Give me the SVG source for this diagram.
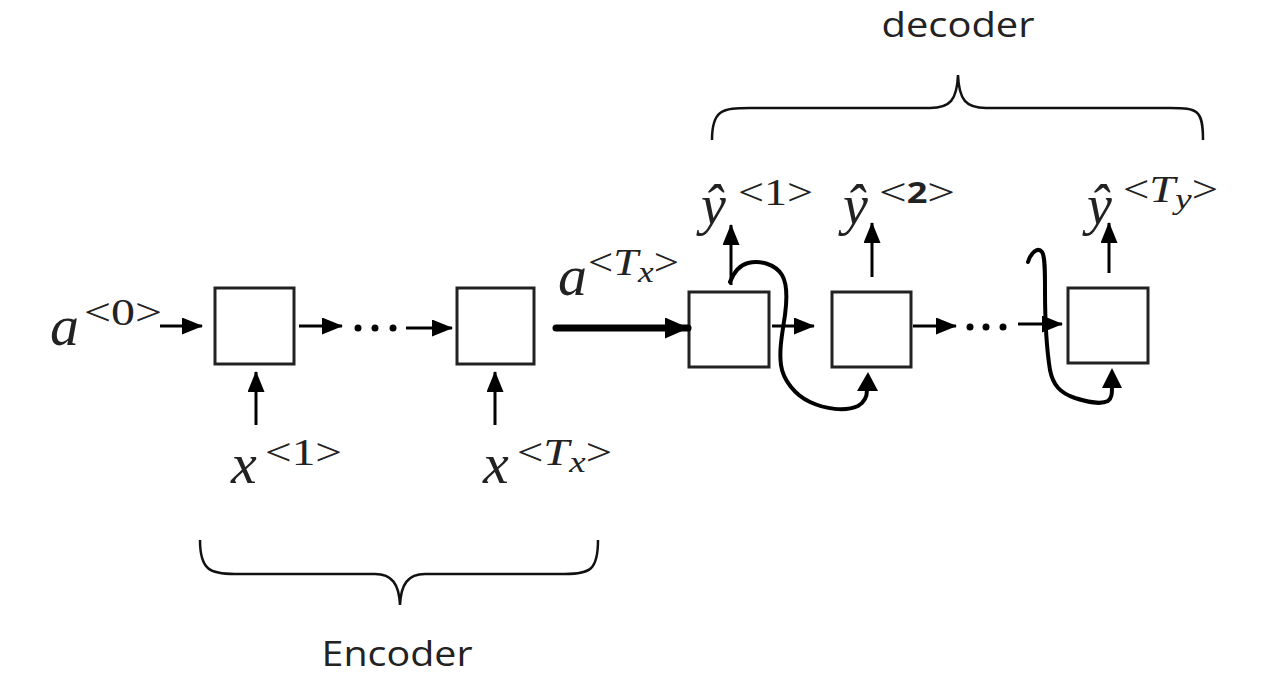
<svg xmlns="http://www.w3.org/2000/svg" width="1282" height="678" viewBox="0 0 1282 678">
<defs>
<marker id="ah" markerUnits="userSpaceOnUse" markerWidth="21" markerHeight="17" refX="20" refY="8.5" orient="auto"><path d="M0,0 L21,8.5 L0,17 z" fill="#000"/></marker>
<marker id="aht" markerUnits="userSpaceOnUse" markerWidth="24" markerHeight="21" refX="23" refY="10.5" orient="auto"><path d="M0,0 L24,10.5 L0,21 z" fill="#000"/></marker>
</defs>
<style>
.box{fill:#fff;stroke:#222;stroke-width:3}
.ar{stroke:#000;stroke-width:3;fill:none;marker-end:url(#ah)}
.thick{stroke:#000;stroke-width:7;fill:none;stroke-linecap:round;marker-end:url(#aht)}
.dot{fill:#000}
.hand{stroke:#000;stroke-width:4;fill:none;stroke-linecap:round;stroke-linejoin:round}
.brace{stroke:#111;stroke-width:2.5;fill:none}
.m{font-family:"Liberation Serif","DejaVu Serif",serif;font-style:italic;fill:#222}
.s{font-family:"Liberation Serif","DejaVu Serif",serif;fill:#222}
.t{font-family:"Open Sans","Noto Sans",sans-serif;fill:#222}
</style>
<rect width="1282" height="678" fill="#fff"/>
<g id="decoder-label"><text class="t" x="958" y="37" font-size="35" text-anchor="middle" textLength="153" lengthAdjust="spacingAndGlyphs">decoder</text></g>
<g id="encoder-label"><text class="t" x="397" y="666" font-size="34" text-anchor="middle" textLength="151" lengthAdjust="spacingAndGlyphs">Encoder</text></g>
<g id="braces">
<path class="brace" d="M712,140 C712,110 722,108 750,108 L930,108 C950,108 957,100 958,75 C959,100 966,108 986,108 L1170,108 C1198,108 1203,110 1203,140"/>
<path class="brace" d="M200,540 C200,570 210,574 235,574 L375,574 C392,574 399,584 400,605 C401,584 408,574 425,574 L565,574 C590,574 598,570 598,540"/>
</g>
<g id="enc1"><rect class="box" x="215" y="288" width="79" height="76"/></g>
<g id="enc2"><rect class="box" x="457" y="288" width="77" height="76"/></g>
<g id="dec1"><rect class="box" x="689" y="292" width="80" height="75"/></g>
<g id="dec2"><rect class="box" x="832" y="292" width="79" height="75"/></g>
<g id="dec3"><rect class="box" x="1068" y="288" width="80" height="75"/></g>
<g id="connectors">
<line class="ar" x1="160" y1="326" x2="202" y2="326"/>
<line class="ar" x1="299" y1="326" x2="342" y2="326"/>
<circle class="dot" cx="358" cy="328" r="3.5"/><circle class="dot" cx="375" cy="328" r="3.5"/><circle class="dot" cx="393" cy="328" r="3.5"/>
<line class="ar" x1="406" y1="328" x2="452" y2="328"/>
<line class="thick" x1="556" y1="328" x2="688" y2="328"/>
<line class="ar" x1="772" y1="326" x2="814" y2="326"/>
<line class="ar" x1="913" y1="326" x2="956" y2="326"/>
<circle class="dot" cx="970" cy="327" r="3.5"/><circle class="dot" cx="986" cy="327" r="3.5"/><circle class="dot" cx="1003" cy="327" r="3.5"/>
<line class="ar" x1="1018" y1="324" x2="1062" y2="324"/>
<line class="ar" x1="256" y1="425" x2="256" y2="372"/>
<line class="ar" x1="495" y1="425" x2="495" y2="372"/>
<line class="ar" x1="731" y1="285" x2="731" y2="225"/>
<line class="ar" x1="872" y1="277" x2="872" y2="223"/>
<line class="ar" x1="1109" y1="273" x2="1109" y2="223"/>
<path class="hand" d="M730,282 C734,272 740,265 748,263 C760,260 775,264 782,275 C788,285 787,300 785,315 C782,335 779,350 781,365 C783,380 795,395 810,402 C825,409 845,412 858,406 C865,402 867,397 867,390"/>
<path d="M857,391 L868,372 L878,391 z" fill="#000"/>
<path class="hand" d="M1028,262 C1031,252 1038,247 1042,252 C1045,256 1045,270 1045,290 C1045,320 1046,345 1050,370 C1053,385 1060,393 1075,398 C1088,402 1100,405 1108,401 C1112,398 1112,393 1112,387"/>
<path d="M1102,388 L1112,368 L1122,388 z" fill="#000"/>
</g>
<g id="labels">
<text class="m" x="50" y="345" font-size="58">a</text>
<text class="s" x="84" y="325" font-size="38" textLength="78" lengthAdjust="spacingAndGlyphs">&lt;0&gt;</text>
<text class="m" x="231" y="483" font-size="58">x</text>
<text class="s" x="265" y="465" font-size="38" textLength="77" lengthAdjust="spacingAndGlyphs">&lt;1&gt;</text>
<text class="m" x="483" y="483" font-size="58">x</text>
<text class="s" x="517" y="465" font-size="38" textLength="95" lengthAdjust="spacingAndGlyphs">&lt;<tspan font-style="italic">T<tspan font-size="30" dy="7">x</tspan></tspan><tspan dy="-7">&gt;</tspan></text>
<text class="m" x="558" y="295" font-size="58">a</text>
<text class="s" x="588" y="275" font-size="38" textLength="91" lengthAdjust="spacingAndGlyphs">&lt;<tspan font-style="italic">T<tspan font-size="30" dy="7">x</tspan></tspan><tspan dy="-7">&gt;</tspan></text>
<text class="m" x="701" y="224" font-size="56">ŷ</text>
<text class="s" x="738" y="205" font-size="38" textLength="75" lengthAdjust="spacingAndGlyphs">&lt;1&gt;</text>
<text class="m" x="843" y="224" font-size="56">ŷ</text>
<text class="s" x="879" y="205" font-size="38" textLength="76" lengthAdjust="spacingAndGlyphs">&lt;<tspan font-family="'Open Sans',sans-serif" font-weight="bold" font-size="28" dy="-2">2</tspan><tspan dy="2">&gt;</tspan></text>
<text class="m" x="1087" y="224" font-size="56">ŷ</text>
<text class="s" x="1123" y="202" font-size="38" textLength="95" lengthAdjust="spacingAndGlyphs">&lt;<tspan font-style="italic">T<tspan font-size="30" dy="7">y</tspan></tspan><tspan dy="-7">&gt;</tspan></text>
</g>
</svg>
